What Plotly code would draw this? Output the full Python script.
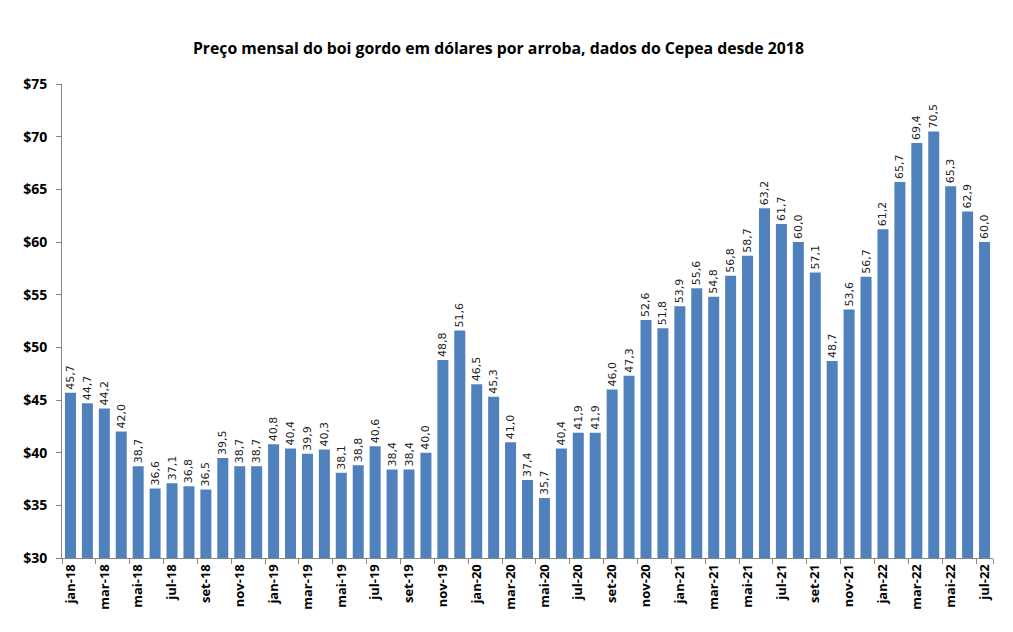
import plotly.graph_objects as go

months = ["jan", "fev", "mar", "abr", "mai", "jun", "jul", "ago", "set", "out", "nov", "dez"]
categories = [f"{m}-{y}" for y in ["18", "19", "20", "21", "22"] for m in months][:55]

values_2018 = [45.7, 44.7, 44.2, 42.0, 38.7, 36.6, 37.1, 36.8, 36.5, 39.5, 38.7, 38.7]
values_2019 = [40.8, 40.4, 39.9, 40.3, 38.1, 38.8, 40.6, 38.4, 38.4, 40.0, 48.8, 51.6]
values_2020 = [46.5, 45.3, 41.0, 37.4, 35.7, 40.4, 41.9, 41.9, 46.0, 47.3, 52.6, 51.8]
values_2021 = [53.9, 55.6, 54.8, 56.8, 58.7, 63.2, 61.7, 60.0, 57.1, 48.7, 53.6, 56.7]
values_2022 = [61.2, 65.7, 69.4, 70.5, 65.3, 62.9, 60.0]
values = values_2018 + values_2019 + values_2020 + values_2021 + values_2022

y_ticks = [30, 35, 40, 45, 50, 55, 60, 65, 70, 75]

labels = [f"{v:.1f}".replace(".", ",") for v in values]

fig = go.Figure(go.Bar(
    x=categories, y=values,
    marker=dict(color="#4F81BD", line=dict(width=0)),
    text=labels, textposition="outside", textangle=-90,
    constraintext="none",
    textfont=dict(family="DejaVu Sans", size=11, color="#222222"),
    cliponaxis=False,
))

fig.update_layout(
    width=1005, height=624,
    paper_bgcolor="white", plot_bgcolor="white",
    margin=dict(l=54, r=20, t=76, b=74, autoexpand=False),
    bargap=0.35,
    showlegend=False,
    title=dict(text="<b>Preço mensal do boi gordo em dólares por arroba, dados do Cepea desde 2018</b>",
               x=0.488, xanchor="center", y=1 - 40 / 624, yref="container", yanchor="middle",
               font=dict(family="Open Sans", size=15.8, color="black")),
    font=dict(family="Open Sans", color="black"),
)
fig.update_xaxes(
    type="category", tickmode="array",
    tickvals=categories[::2], ticktext=[f"<b>{c}</b>" for c in categories[::2]],
    tickangle=-90, tickfont=dict(size=13, family="Open Sans"),
    showline=True, linecolor="#868686", linewidth=1,
    ticks="outside", ticklen=5, tickcolor="#868686", tickson="boundaries",
    showgrid=False,
)
fig.update_yaxes(
    range=[30, 75],
    tickvals=y_ticks, ticktext=[f"<b>${v}</b>" for v in y_ticks],
    tickfont=dict(size=14, family="Open Sans"),
    ticklabelstandoff=6,
    showline=True, linecolor="#868686", linewidth=1,
    ticks="outside", ticklen=5, tickcolor="#868686",
    showgrid=False, zeroline=False,
)

fig.write_html("out.html")
